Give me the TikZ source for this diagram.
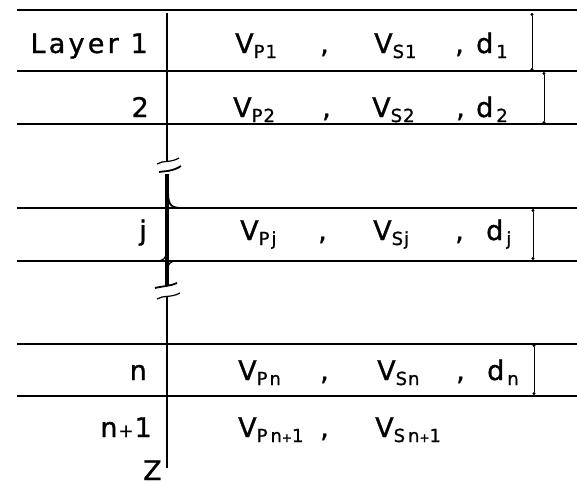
\documentclass[tikz,border=0pt]{standalone}
\usepackage{fontspec}
\setmainfont{DejaVu Sans}[FakeBold=1]
\usetikzlibrary{arrows.meta}
\newcommand\subt[1]{\raisebox{-5pt}{\fontsize{18}{18}\selectfont #1}}
\newcommand\smallplus{{\fontsize{12}{12}\selectfont +}}
\begin{document}
\begin{tikzpicture}[x=1pt,y=-1pt,
  txt/.style={anchor=base west,inner sep=0pt,font=\fontsize{27}{27}\selectfont},
  lbl/.style={anchor=base east,inner sep=0pt,font=\fontsize{27}{27}\selectfont},
  hline/.style={line width=1.3pt},
  axisline/.style={line width=1.8pt},
  thinmark/.style={line width=1.2pt},
  dimline/.style={line width=0.7pt,{Circle[length=3pt]}-{Circle[length=3pt]}}]
\useasboundingbox (0,0) rectangle (577,485);
% horizontal layer boundaries
\foreach \yy/\nm in {10/a,71/b,124/c,208/d,261/e,344/f,396/g}{
  \coordinate (w\nm) at (17,\yy);
  \coordinate (e\nm) at (577,\yy);
  \draw[hline] (w\nm) -- (e\nm);
}
% depth axis
\coordinate (ax0) at (167,13);
\coordinate (ax1) at (167,162);
\coordinate (ax2) at (167,297);
\coordinate (ax3) at (167,468);
\draw[axisline] (ax0) -- (ax1);
\draw[axisline] (ax2) -- (ax3);
% break marks
\draw[thinmark] (157,164) .. controls (163,160) and (171,163) .. (179,158);
\draw[thinmark] (157,299) .. controls (163,295) and (171,298) .. (180,293);
% brace
\draw[line width=4.2pt] (167,174) -- (167,285);
\draw[line width=1.8pt] (159,172) .. controls (163,171) and (172,172) .. (181,166);
\draw[line width=1.8pt] (168,192) .. controls (168,206) and (172,208) .. (182,208);
\draw[thinmark] (157,261) .. controls (163,261) and (166,258) .. (167,252);
\draw[thinmark] (177,261) .. controls (170,261) and (168,264) .. (167,270);
\draw[line width=1.8pt] (155,288) .. controls (163,286) and (171,286) .. (177,283);
% row labels
\node[lbl,font=\fontsize{27}{27}\selectfont\addfontfeatures{LetterSpace=12}] (l1) at (148,53) {Layer 1};
\node[lbl] (l2) at (149,117) {2};
\node[lbl] (lj) at (147,240) {j};
\node[lbl] (ln) at (147,380) {n};
\node[lbl] (ln1) at (152,437) {n\kern1pt{\fontsize{18}{18}\selectfont+}\kern1pt1};
\node[txt] (z) at (143,480) {Z};
% row 1
\node[txt] (vp1) at (235,53) {V\subt{P\kern1pt1}};
\node[txt] (c11) at (320,53) {,};
\node[txt] (vs1) at (374,53) {V\subt{S\kern1pt1}};
\node[txt] (c12) at (455,53) {,};
\node[txt] (d1) at (476,53) {d\kern3pt\subt{1}};
% row 2
\node[txt] (vp2) at (233,117) {V\subt{P\kern1pt2}};
\node[txt] (c21) at (322,117) {,};
\node[txt] (vs2) at (372,117) {V\subt{S\kern1pt2}};
\node[txt] (c22) at (456,117) {,};
\node[txt] (d2) at (476,117) {d\kern3pt\subt{2}};
% row j
\node[txt] (vpj) at (240,240) {V\subt{P\kern2pt j}};
\node[txt] (cj1) at (318,240) {,};
\node[txt] (vsj) at (373,240) {V\subt{S\kern1pt j}};
\node[txt] (cj2) at (455,240) {,};
\node[txt] (dj) at (486,240) {d\kern3pt\subt{j}};
% row n
\node[txt] (vpn) at (238,380) {V\subt{P\kern2pt n}};
\node[txt] (cn1) at (320,380) {,};
\node[txt] (vsn) at (377,380) {V\subt{S\kern1pt n}};
\node[txt] (cn2) at (456,380) {,};
\node[txt] (dn) at (487,380) {d\kern3pt\subt{n}};
% row n+1
\node[txt] (vpn1) at (238,437) {V\subt{P\kern3pt n\smallplus 1}};
\node[txt] (cn11) at (320,437) {,};
\node[txt] (vsn1) at (375,437) {V\subt{S\kern3pt n\smallplus 1}};
% thickness dimension lines
\coordinate (t1a) at (532,13);  \coordinate (t1b) at (532,71);
\coordinate (t2a) at (544,72);  \coordinate (t2b) at (544,124);
\coordinate (tja) at (533,209); \coordinate (tjb) at (533,260);
\coordinate (tna) at (534,344); \coordinate (tnb) at (534,395);
\draw[dimline] (t1a) -- (t1b);
\draw[dimline] (t2a) -- (t2b);
\draw[dimline] (tja) -- (tjb);
\draw[dimline] (tna) -- (tnb);
\end{tikzpicture}
\end{document}
